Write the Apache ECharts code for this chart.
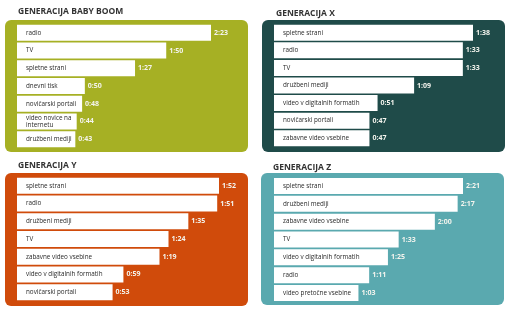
<!DOCTYPE html>
<html><head><meta charset="utf-8">
<script src="https://cdn.jsdelivr.net/npm/echarts@6/dist/echarts.min.js"></script>
<style>html,body{margin:0;padding:0;background:#fff}#c{width:512px;height:322px}</style>
</head><body><div id="c"></div>
<script>
// Data (values in minutes; shown as h:mm)
const titles = ['GENERACIJA BABY BOOM', 'GENERACIJA X', 'GENERACIJA Y', 'GENERACIJA Z'];
const catsBB = ['radio', 'TV', 'spletne strani', 'dnevni tisk', 'novičarski portali', 'video novice na\ninternetu', 'družbeni mediji'];
const valsBB = [143, 110, 87, 50, 48, 44, 43];
const catsX = ['spletne strani', 'radio', 'TV', 'družbeni mediji', 'video v digitalnih formatih', 'novičarski portali', 'zabavne video vsebine'];
const valsX = [98, 93, 93, 69, 51, 47, 47];
const catsY = ['spletne strani', 'radio', 'družbeni mediji', 'TV', 'zabavne video vsebine', 'video v digitalnih formatih', 'novičarski portali'];
const valsY = [112, 111, 95, 84, 79, 59, 53];
const catsZ = ['spletne strani', 'družbeni mediji', 'zabavne video vsebine', 'TV', 'video v digitalnih formatih', 'radio', 'video pretočne vsebine'];
const valsZ = [141, 137, 120, 93, 85, 71, 63];

const panels = [
  {cats: catsBB, vals: valsBB, color: '#a6b024', rect: [5, 20, 243, 132], grid: {left: 17, top: 24, width: 194, height: 124}, title: [18, 7]},
  {cats: catsX, vals: valsX, color: '#1f4b49', rect: [262, 20, 243, 132], grid: {left: 274, top: 24, width: 199, height: 123}, title: [276, 9]},
  {cats: catsY, vals: valsY, color: '#d04b0b', rect: [5, 173, 243, 133], grid: {left: 17, top: 177, width: 202, height: 124}, title: [18, 161]},
  {cats: catsZ, vals: valsZ, color: '#5aa9af', rect: [261, 173, 243, 132], grid: {left: 274, top: 177, width: 189, height: 125}, title: [273, 163]}
];
const fmt = v => Math.floor(v / 60) + ':' + String(v % 60).padStart(2, '0');
const FONT = '"Open Sans", sans-serif';

const option = {
  animation: false,
  backgroundColor: '#fff',
  title: panels.map((p, i) => ({
    text: titles[i], left: p.title[0], top: p.title[1], padding: 0,
    textStyle: {fontFamily: FONT, fontSize: 8.5, fontWeight: 'bold', color: '#333333'}
  })),
  graphic: panels.map(p => ({
    type: 'rect', z: -10, silent: true,
    shape: {x: p.rect[0], y: p.rect[1], width: p.rect[2], height: p.rect[3], r: 6},
    style: {fill: p.color}
  })),
  grid: panels.map(p => Object.assign({containLabel: false}, p.grid)),
  xAxis: panels.map((p, i) => ({
    type: 'value', gridIndex: i, min: 0, max: 'dataMax', show: false
  })),
  yAxis: panels.map((p, i) => ({
    type: 'category', gridIndex: i, data: p.cats, inverse: true,
    axisLine: {show: false}, axisTick: {show: false}, splitLine: {show: false},
    axisLabel: {inside: true, margin: 9, interval: 0, fontFamily: FONT, fontSize: 6.3, lineHeight: 7, color: '#2a2a2a', z: 10},
    z: 10
  })),
  series: panels.map((p, i) => ({
    type: 'bar', xAxisIndex: i, yAxisIndex: i, data: p.vals, barWidth: 16,
    itemStyle: {color: '#ffffff'},
    label: {show: true, position: 'right', distance: 3, formatter: d => fmt(d.value),
      fontFamily: FONT, fontSize: 7, fontWeight: 'bold', color: '#f4f4ee'}
  }))
};
echarts.init(document.getElementById('c'), null, {renderer: 'canvas'}).setOption(option);
</script></body></html>
